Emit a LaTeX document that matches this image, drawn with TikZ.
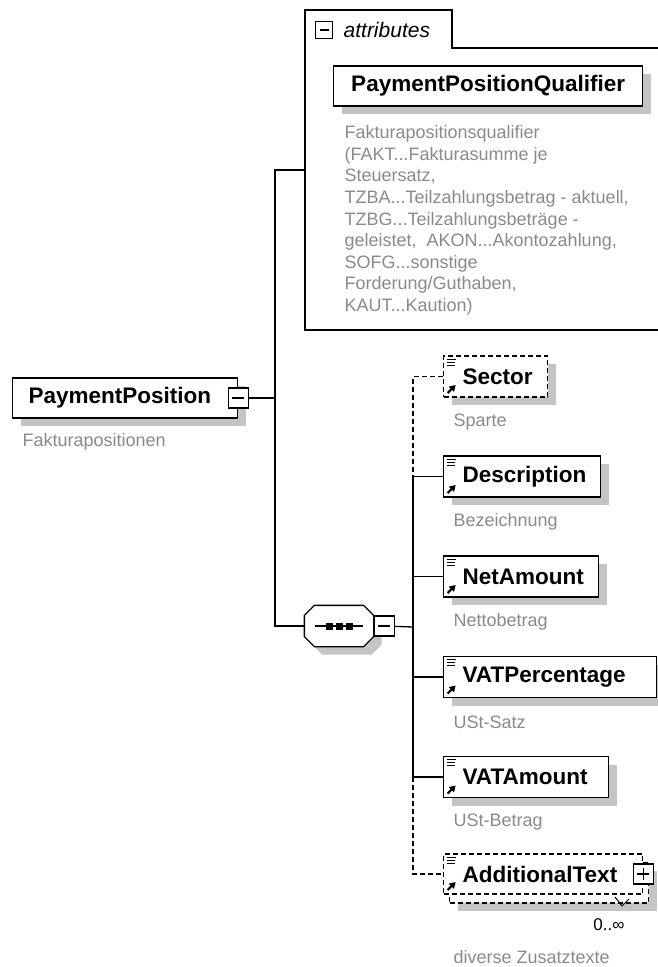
\documentclass[tikz,border=0pt]{standalone}
\usepackage{fontspec}
\setmainfont{Liberation Sans}
\usetikzlibrary{positioning, calc, shadows, arrows.meta}
\definecolor{descgray}{HTML}{8A8A8A}
\definecolor{shadowgray}{HTML}{C4C4C4}

\begin{document}
\begin{tikzpicture}[
    x=1pt,
    y=-1pt,
    line width=1.3pt,
    boxshadow/.style={drop shadow={shadow xshift=8pt, shadow yshift=-8pt, fill=shadowgray, opacity=1}},
    compbox/.style={draw, fill=white, inner sep=0, minimum height=40,
      font=\fontsize{22.5}{27}\selectfont\bfseries},
    elembox/.style={compbox, anchor=west, minimum height=41, text width=#1, align=left,
      path picture={
        \draw[solid, line width=1pt]
          ([shift={(3,3)}]path picture bounding box.north west) -- +(9,0)
          ([shift={(3,6)}]path picture bounding box.north west) -- +(8,0)
          ([shift={(3,9)}]path picture bounding box.north west) -- +(8,0);
        \draw[solid, line width=2.2pt, -{Triangle[length=6pt, width=7pt]}]
          ([shift={(4,-4)}]path picture bounding box.south west) -- +(8,-8);
      }},
    element/.style={elembox=#1, boxshadow},
    optline/.style={dash pattern=on 5pt off 3pt},
    optelement/.style={elembox=#1, boxshadow, optline},
    multielement/.style={elembox=#1, optline,
      drop shadow={shadow xshift=14pt, shadow yshift=-17pt, fill=shadowgray, opacity=1},
      copy shadow={shadow xshift=6pt, shadow yshift=-9pt, draw, fill=white, optline}},
    collapse/.style={draw, solid, fill=white, minimum size=20, inner sep=0, line width=1.1pt,
      path picture={\draw[line width=1.1pt] ([xshift=4pt]path picture bounding box.west) -- ([xshift=-4pt]path picture bounding box.east);}},
    expand/.style={draw, solid, fill=white, minimum size=20, inner sep=0, line width=1.1pt,
      path picture={\draw[line width=1.1pt] ([xshift=4pt]path picture bounding box.west) -- ([xshift=-4pt]path picture bounding box.east)
        ([yshift=-4pt]path picture bounding box.north) -- ([yshift=4pt]path picture bounding box.south);}},
    seqbox/.style={minimum width=68, minimum height=40, inner sep=0},
    desc/.style={anchor=west, inner sep=0, text=descgray, font=\fontsize{18}{21.6}\selectfont}]

  \clip (0,0) rectangle (658,967);

  % attributes
  \draw (670,48) -- (452,48) -- (452,10) -- (305,10) -- (305,330) -- (670,330);
  \path
    node(attrmin) at (324,30) [collapse, minimum size=17] {}
    node(attrlbl) at (343,30) [anchor=west, inner sep=0, font=\fontsize{21}{25}\selectfont\itshape] {attributes}
    node(ppq) at (333,86) [compbox, boxshadow, anchor=west, minimum width=309] {PaymentPositionQualifier}
    node(ppqdesc) at (344,125) [desc, anchor=north west, align=left]
      {Fakturapositionsqualifier\\
       (FAKT...Fakturasumme je\\
       Steuersatz,\\
       TZBA...Teilzahlungsbetrag - aktuell,\\
       TZBG...Teilzahlungsbeträge -\\
       geleistet, \ AKON...Akontozahlung,\\
       SOFG...sonstige\\
       Forderung/Guthaben,\\
       KAUT...Kaution)};

  % PaymentPosition
  \path
    node(pp) at (12,398) [compbox, boxshadow, anchor=west, text width=225pt, align=left] {\hspace*{16pt}PaymentPosition}
    node(ppmin) at (pp.east) [collapse] {}
    node(ppdesc) at (22,442) [desc] {Fakturapositionen};

  % sequence
  \node(seq) at (339,626) [seqbox] {};
  \draw[fill=white, boxshadow]
    ([xshift=10pt]seq.north west) -- ([xshift=-10pt]seq.north east)
    -- ([yshift=-10pt]seq.north east) -- ([yshift=10pt]seq.south east)
    -- ([xshift=-10pt]seq.south east) -- ([xshift=10pt]seq.south west)
    -- ([yshift=10pt]seq.south west) -- ([yshift=-10pt]seq.north west) -- cycle;
  \draw ([xshift=-24pt]seq.center) -- ([xshift=24pt]seq.center);
  \foreach \dx in {-10,0,10}
    \fill ([xshift=\dx pt]seq.center) +(-3.5,-3.5) rectangle +(3.5,3.5);
  \node(seqmin) at (seq.east) [collapse, anchor=west] {};

  % children
  \path
    node(sector)  at (443,376.5) [optelement=104pt] {\hspace*{19pt}Sector}
    node(descr)   at (443,476.5) [element=157pt] {\hspace*{19pt}Description}
    node(netamt)  at (443,576.5) [element=155pt] {\hspace*{19pt}NetAmount}
    node(vatperc) at (443,677)   [element=213pt] {\hspace*{19pt}VATPercentage}
    node(vatamt)  at (443,777)   [element=165pt] {\hspace*{19pt}VATAmount}
    node(addtext) at (443,874)   [multielement=199pt, minimum height=40] {\hspace*{19pt}AdditionalText}
    node(addplus) at (addtext.east) [expand] {};

  \path
    node(sectordesc)  at (453,422) [desc] {Sparte}
    node(descrdesc)   at (453,522) [desc] {Bezeichnung}
    node(netamtdesc)  at (453,622) [desc] {Nettobetrag}
    node(vatpercdesc) at (453,722) [desc] {USt-Satz}
    node(vatamtdesc)  at (453,822) [desc] {USt-Betrag}
    node(addocc)      at (609,925) [inner sep=0, font=\fontsize{17}{20}\selectfont] {0..∞}
    node(addtextdesc) at (453,957) [desc] {diverse Zusatztexte};

  \coordinate (attrin) at (305,170);
  \coordinate (ptrunk) at (275,398);
  \coordinate (strunk) at (413,627);

  \draw (ppmin) -- (ptrunk);
  \draw (attrin) -| (ptrunk) |- (seq);
  \draw (seqmin) -- (strunk);
  \draw[optline] (sector) -| (strunk |- descr.west);
  \draw (descr) -| (strunk |- vatamt.west) -- (vatamt);
  \draw (strunk |- netamt.west) -- (netamt);
  \draw (strunk |- vatperc.west) -- (vatperc);
  \draw[optline] (strunk |- vatamt.west) |- (addtext);
  \draw[line width=1pt] (615,897) -- (622,906) -- (629,899);
\end{tikzpicture}
\end{document}
